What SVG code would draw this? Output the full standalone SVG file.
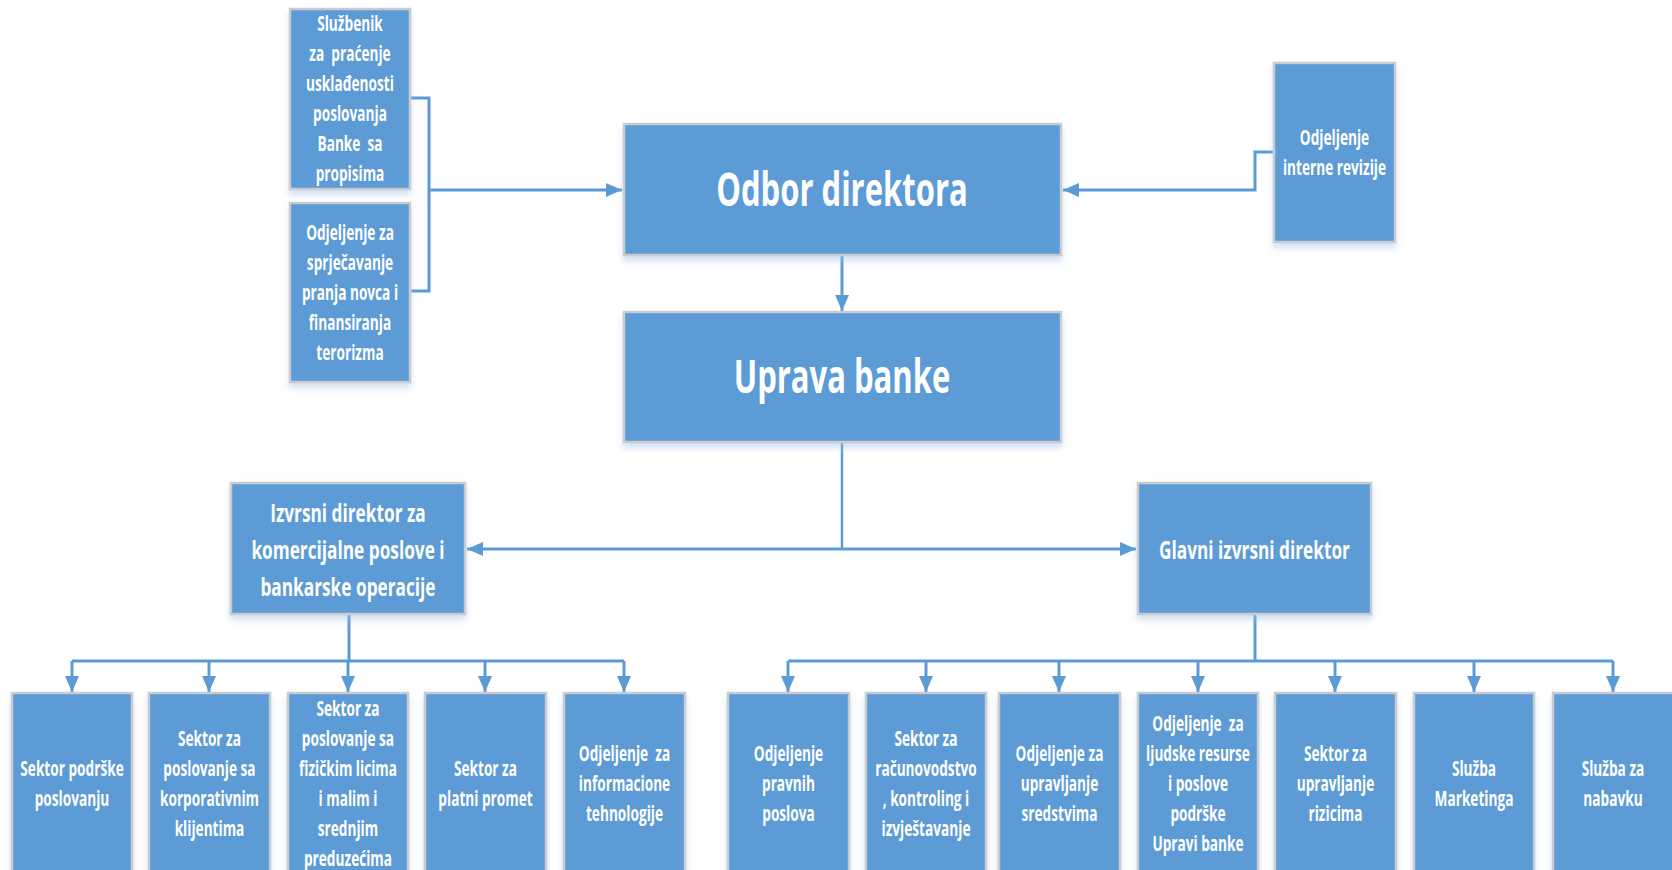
<svg xmlns="http://www.w3.org/2000/svg" width="1672" height="870" viewBox="0 0 1672 870">
<defs>
<style>
.box{fill:#5B9BD5;stroke:#C8CCD0;stroke-width:2.5}
.t{font-family:"Open Sans","Noto Sans","Liberation Sans",sans-serif;font-weight:700;fill:#FFFFFF;text-anchor:middle}
.s{font-size:21px}
.m{font-size:25px}
.b{font-size:47px}
.c{fill:none;stroke:#5B9BD5;stroke-width:3}
</style>
<filter id="sh" x="-10%" y="-10%" width="120%" height="130%">
<feDropShadow dx="0" dy="5" stdDeviation="3" flood-color="#9DBFE3" flood-opacity="0.45"/>
</filter>
<marker id="ah" viewBox="0 0 16 16" refX="16" refY="8" markerWidth="16" markerHeight="16" markerUnits="userSpaceOnUse" orient="auto">
<path d="M0,1 L16,8 L0,15 Z" fill="#5B9BD5"/>
</marker>
<marker id="ahs" viewBox="0 0 16 16" refX="0" refY="8" markerWidth="16" markerHeight="16" markerUnits="userSpaceOnUse" orient="auto">
<path d="M16,1 L0,8 L16,15 Z" fill="#5B9BD5"/>
</marker>
</defs>
<rect width="1672" height="870" fill="#FFFFFF"/>

<g id="connectors">
<path class="c" d="M410,98 H429 V291 H410"/>
<path class="c" d="M429,190 H622" marker-end="url(#ah)"/>
<path class="c" d="M1274,152 H1255 V190 H1063" marker-end="url(#ah)"/>
<path class="c" d="M842,255 V311" marker-end="url(#ah)"/>
<path class="c" d="M842,442 V549" style="stroke-width:2.5"/>
<path class="c" d="M467,549 H1136" marker-start="url(#ahs)" marker-end="url(#ah)"/>
<path class="c" d="M349,614 V661"/>
<path class="c" d="M72,661 H624"/>
<path class="c" d="M72,661 V692" marker-end="url(#ah)"/>
<path class="c" d="M209,661 V692" marker-end="url(#ah)"/>
<path class="c" d="M348,661 V692" marker-end="url(#ah)"/>
<path class="c" d="M485,661 V692" marker-end="url(#ah)"/>
<path class="c" d="M624,661 V692" marker-end="url(#ah)"/>
<path class="c" d="M1255,614 V661"/>
<path class="c" d="M788,661 H1613"/>
<path class="c" d="M788,661 V692" marker-end="url(#ah)"/>
<path class="c" d="M926,661 V692" marker-end="url(#ah)"/>
<path class="c" d="M1059,661 V692" marker-end="url(#ah)"/>
<path class="c" d="M1198,661 V692" marker-end="url(#ah)"/>
<path class="c" d="M1335,661 V692" marker-end="url(#ah)"/>
<path class="c" d="M1474,661 V692" marker-end="url(#ah)"/>
<path class="c" d="M1613,661 V692" marker-end="url(#ah)"/>
</g>

<g id="sluzbenik">
<rect class="box" filter="url(#sh)" x="290" y="9" width="120" height="180"/>
<text class="t s" transform="translate(350 0) scale(0.65 1) translate(-350 0)" xml:space="preserve"><tspan x="350" y="31">Službenik</tspan><tspan x="350" y="61">za  praćenje</tspan><tspan x="350" y="91">usklađenosti</tspan><tspan x="350" y="121">poslovanja</tspan><tspan x="350" y="151">Banke  sa</tspan><tspan x="350" y="181">propisima</tspan></text>
</g>

<g id="sprjecavanje">
<rect class="box" filter="url(#sh)" x="290" y="203" width="120" height="179"/>
<text class="t s" transform="translate(350 0) scale(0.65 1) translate(-350 0)"><tspan x="350" y="240">Odjeljenje za</tspan><tspan x="350" y="270">sprječavanje</tspan><tspan x="350" y="300">pranja novca i</tspan><tspan x="350" y="330">finansiranja</tspan><tspan x="350" y="360">terorizma</tspan></text>
</g>

<g id="odbor">
<rect class="box" filter="url(#sh)" x="624" y="124" width="437" height="131"/>
<text class="t b" transform="translate(842 0) scale(0.66 1) translate(-842 0)" x="842" y="206">Odbor direktora</text>
</g>

<g id="uprava">
<rect class="box" filter="url(#sh)" x="624" y="312" width="437" height="130"/>
<text class="t b" transform="translate(842 0) scale(0.66 1) translate(-842 0)" x="842" y="393">Uprava banke</text>
</g>

<g id="revizija">
<rect class="box" filter="url(#sh)" x="1274" y="63" width="121" height="179"/>
<text class="t s" transform="translate(1334.5 0) scale(0.65 1) translate(-1334.5 0)"><tspan x="1334.5" y="145">Odjeljenje</tspan><tspan x="1334.5" y="175">interne revizije</tspan></text>
</g>

<g id="izvrsni">
<rect class="box" filter="url(#sh)" x="231" y="483" width="234" height="131"/>
<text class="t m" transform="translate(348 0) scale(0.69 1) translate(-348 0)"><tspan x="348" y="522">Izvrsni direktor za</tspan><tspan x="348" y="559">komercijalne poslove i</tspan><tspan x="348" y="596">bankarske operacije</tspan></text>
</g>

<g id="glavni">
<rect class="box" filter="url(#sh)" x="1138" y="483" width="233" height="131"/>
<text class="t m" transform="translate(1254.5 0) scale(0.69 1) translate(-1254.5 0)" x="1254.5" y="559">Glavni izvrsni direktor</text>
</g>

<g id="l1">
<rect class="box" filter="url(#sh)" x="12" y="693" width="120" height="190"/>
<text class="t s" transform="translate(72 0) scale(0.65 1) translate(-72 0)"><tspan x="72" y="776">Sektor podrške</tspan><tspan x="72" y="806">poslovanju</tspan></text>
</g>
<g id="l2">
<rect class="box" filter="url(#sh)" x="149" y="693" width="121" height="190"/>
<text class="t s" transform="translate(209.5 0) scale(0.65 1) translate(-209.5 0)"><tspan x="209.5" y="746">Sektor za</tspan><tspan x="209.5" y="776">poslovanje sa</tspan><tspan x="209.5" y="806">korporativnim</tspan><tspan x="209.5" y="836">klijentima</tspan></text>
</g>
<g id="l3">
<rect class="box" filter="url(#sh)" x="288" y="693" width="120" height="190"/>
<text class="t s" transform="translate(348 0) scale(0.65 1) translate(-348 0)"><tspan x="348" y="716">Sektor za</tspan><tspan x="348" y="746">poslovanje sa</tspan><tspan x="348" y="776">fizičkim licima</tspan><tspan x="348" y="806">i malim i</tspan><tspan x="348" y="836">srednjim</tspan><tspan x="348" y="866">preduzećima</tspan></text>
</g>
<g id="l4">
<rect class="box" filter="url(#sh)" x="425" y="693" width="121" height="190"/>
<text class="t s" transform="translate(485.5 0) scale(0.65 1) translate(-485.5 0)"><tspan x="485.5" y="776">Sektor za</tspan><tspan x="485.5" y="806">platni promet</tspan></text>
</g>
<g id="l5">
<rect class="box" filter="url(#sh)" x="564" y="693" width="121" height="190"/>
<text class="t s" transform="translate(624.5 0) scale(0.65 1) translate(-624.5 0)" xml:space="preserve"><tspan x="624.5" y="761">Odjeljenje  za</tspan><tspan x="624.5" y="791">informacione</tspan><tspan x="624.5" y="821">tehnologije</tspan></text>
</g>

<g id="r1">
<rect class="box" filter="url(#sh)" x="728" y="693" width="121" height="190"/>
<text class="t s" transform="translate(788.5 0) scale(0.65 1) translate(-788.5 0)"><tspan x="788.5" y="761">Odjeljenje</tspan><tspan x="788.5" y="791">pravnih</tspan><tspan x="788.5" y="821">poslova</tspan></text>
</g>
<g id="r2">
<rect class="box" filter="url(#sh)" x="866" y="693" width="120" height="190"/>
<text class="t s" transform="translate(926 0) scale(0.65 1) translate(-926 0)"><tspan x="926" y="746">Sektor za</tspan><tspan x="926" y="776">računovodstvo</tspan><tspan x="926" y="806">, kontroling i</tspan><tspan x="926" y="836">izvještavanje</tspan></text>
</g>
<g id="r3">
<rect class="box" filter="url(#sh)" x="999" y="693" width="121" height="190"/>
<text class="t s" transform="translate(1059.5 0) scale(0.65 1) translate(-1059.5 0)"><tspan x="1059.5" y="761">Odjeljenje za</tspan><tspan x="1059.5" y="791">upravljanje</tspan><tspan x="1059.5" y="821">sredstvima</tspan></text>
</g>
<g id="r4">
<rect class="box" filter="url(#sh)" x="1138" y="693" width="120" height="190"/>
<text class="t s" transform="translate(1198 0) scale(0.65 1) translate(-1198 0)" xml:space="preserve"><tspan x="1198" y="731">Odjeljenje  za</tspan><tspan x="1198" y="761">ljudske resurse</tspan><tspan x="1198" y="791">i poslove</tspan><tspan x="1198" y="821">podrške</tspan><tspan x="1198" y="851">Upravi banke</tspan></text>
</g>
<g id="r5">
<rect class="box" filter="url(#sh)" x="1275" y="693" width="121" height="190"/>
<text class="t s" transform="translate(1335.5 0) scale(0.65 1) translate(-1335.5 0)"><tspan x="1335.5" y="761">Sektor za</tspan><tspan x="1335.5" y="791">upravljanje</tspan><tspan x="1335.5" y="821">rizicima</tspan></text>
</g>
<g id="r6">
<rect class="box" filter="url(#sh)" x="1414" y="693" width="120" height="190"/>
<text class="t s" transform="translate(1474 0) scale(0.65 1) translate(-1474 0)"><tspan x="1474" y="776">Služba</tspan><tspan x="1474" y="806">Marketinga</tspan></text>
</g>
<g id="r7">
<rect class="box" filter="url(#sh)" x="1553" y="693" width="121" height="190"/>
<text class="t s" transform="translate(1613 0) scale(0.65 1) translate(-1613 0)"><tspan x="1613" y="776">Služba za</tspan><tspan x="1613" y="806">nabavku</tspan></text>
</g>
</svg>
